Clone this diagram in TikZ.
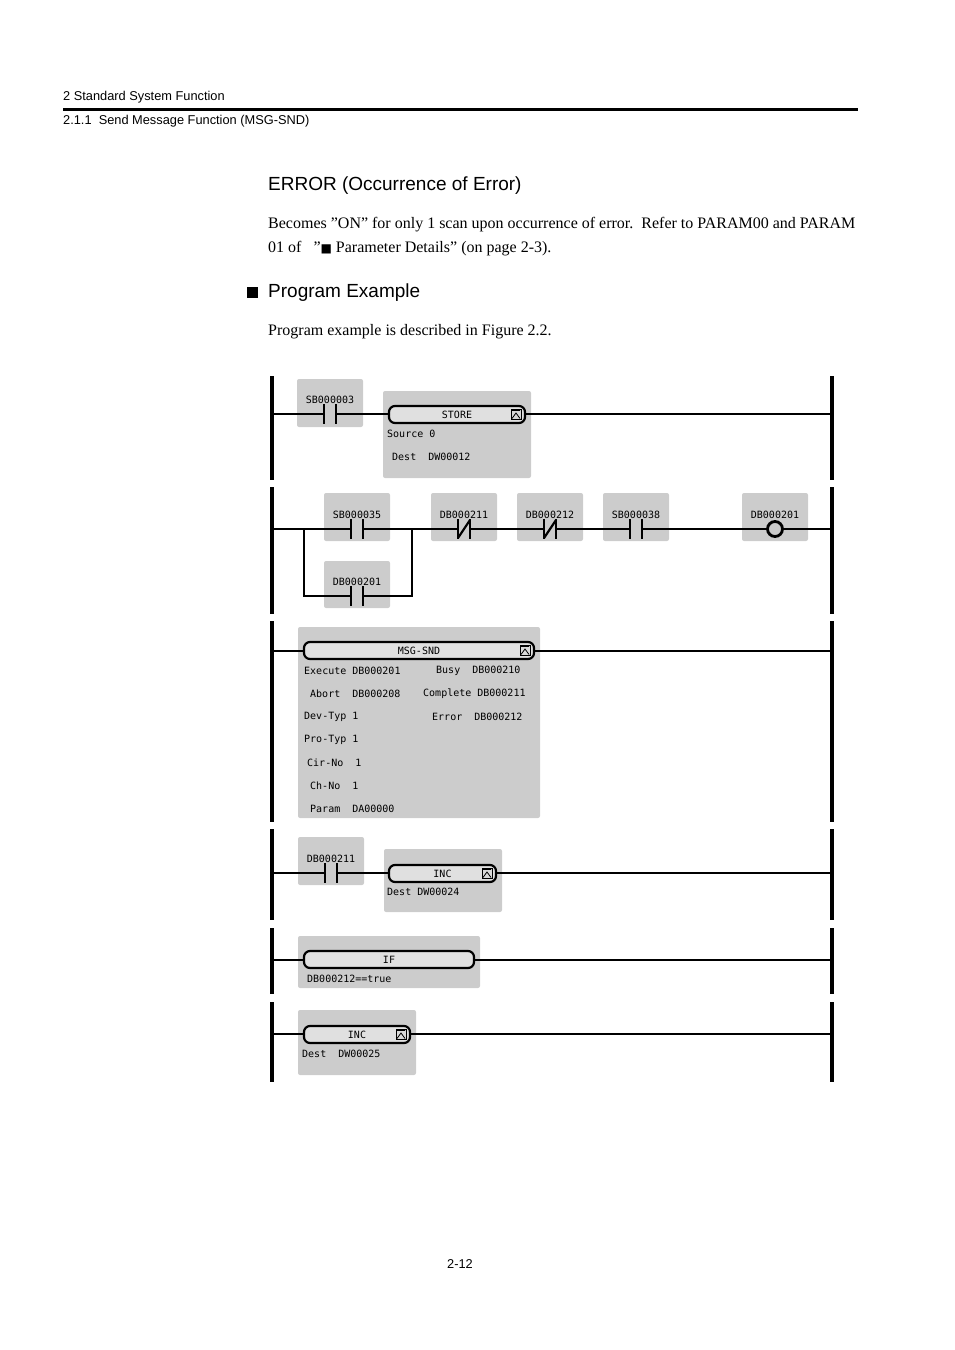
\documentclass[tikz,border=0pt]{standalone}
\usepackage{fontspec}
\setmainfont{Liberation Serif}
\newfontfamily\hsans{Liberation Sans}
\newfontfamily\lmono{DejaVu Sans Mono}
\begin{document}
\begin{tikzpicture}[x=1pt,y=-1pt,
  blk/.style={fill=black!20,rounded corners=2pt},
  lbl/.style={font=\lmono\fontsize{10}{11}\selectfont,inner sep=0pt,anchor=west},
  rail/.style={line width=3.5pt},
  wire/.style={line width=1.8pt},
  bar/.style={draw,line width=2.2pt,fill=black!12,rounded corners=6pt}]
\useasboundingbox (0,0) rectangle (954,1350);
% header
\node[font=\hsans\fontsize{12.8}{14}\selectfont,anchor=west,inner sep=0] (h1) at (63,97) {2 Standard System Function};
\draw[line width=3.5pt] (63,109.5) -- (858,109.5);
\node[font=\hsans\fontsize{12.8}{14}\selectfont,anchor=west,inner sep=0] (h2) at (63,121) {2.1.1\ \ Send Message Function (MSG-SND)};
\node[font=\hsans\fontsize{19}{21}\selectfont,anchor=west,inner sep=0] (t1) at (268,186) {ERROR (Occurrence of Error)};
\node[font=\fontsize{16}{18}\selectfont,anchor=west,inner sep=0] (p1) at (268,225) {Becomes \symbol{34}ON\symbol{34} for only 1 scan upon occurrence of error.\ \ Refer to PARAM00 and PARAM};
\node[font=\fontsize{16}{18}\selectfont,anchor=west,inner sep=0] (p2) at (268,249) {01 of\ \ \ \symbol{34}{\fontspec{DejaVu Sans}\fontsize{12}{14}\selectfont ■} Parameter Details\symbol{34} (on page 2-3).};
\fill (247,287) rectangle (258,298);
\node[font=\hsans\fontsize{19}{21}\selectfont,anchor=west,inner sep=0] (t2) at (268,293) {Program Example};
\node[font=\fontsize{16}{18}\selectfont,anchor=west,inner sep=0] (p3) at (268,332) {Program example is described in Figure 2.2.};
\node[font=\hsans\fontsize{12.8}{14}\selectfont,inner sep=0] (pg) at (460,1264) {2-12};
% gray boxes
\fill[blk] (297,379) rectangle (363,427);
\fill[blk] (383,391) rectangle (531,478);
\foreach \x in {324,431,517,603,742} \fill[blk] (\x,493) rectangle ++(66,48);
\fill[blk] (324,561) rectangle (390,608);
\fill[blk] (298,627) rectangle (540,818);
\fill[blk] (298,837) rectangle (364,885);
\fill[blk] (384,849) rectangle (502,912);
\fill[blk] (298,936) rectangle (480,988);
\fill[blk] (298,1010) rectangle (416,1075);
% rails
\foreach \a/\b in {376/480,487/614,621/822,829/920,928/994,1002/1082}{
  \draw[rail] (272,\a) -- (272,\b); \draw[rail] (832,\a) -- (832,\b);}
% wires
\foreach \y in {414,529,651,873,960,1034} \draw[wire] (272,\y) -- (832,\y);
% branch
\draw[wire] (304,529) -- (304,596) -- (412,596) -- (412,529);
% contacts
\newcommand{\nocont}[2]{\fill[black!20] (#1-5,#2-3) rectangle (#1+5,#2+3);
  \draw[line width=2.2pt] (#1-6,#2-10) -- (#1-6,#2+10) (#1+6,#2-10) -- (#1+6,#2+10);}
\newcommand{\nccont}[2]{\nocont{#1}{#2}\draw[line width=2.2pt] (#1-6,#2+9) -- (#1+6,#2-9);}
\nocont{330}{414}
\nocont{357}{529}\nccont{464}{529}\nccont{550}{529}\nocont{636}{529}
\nocont{357}{596}\nocont{331}{873}
\draw[line width=2.8pt,fill=black!20] (775,529) circle (7.5);
% labels
\node[lbl,anchor=center] (c1) at (330,400) {SB000003};
\node[lbl,anchor=center] (c2) at (357,515) {SB000035};
\node[lbl,anchor=center] (c3) at (464,515) {DB000211};
\node[lbl,anchor=center] (c4) at (550,515) {DB000212};
\node[lbl,anchor=center] (c5) at (636,515) {SB000038};
\node[lbl,anchor=center] (c6) at (775,515) {DB000201};
\node[lbl,anchor=center] (c7) at (357,582) {DB000201};
\node[lbl,anchor=center] (c8) at (331,859) {DB000211};
% function bars
\newcommand{\fbar}[5]{\draw[bar] (#1,#2) rectangle (#3,#2+17);
  \node[lbl,anchor=center] at ({(#1+#3)/2},#2+8.5) {#4};
  \ifnum#5=1 \draw[fill=black!15,line width=0.8pt] (#3-14,#2+3.5) rectangle (#3-4,#2+13.5);
  \draw[line width=0.8pt] (#3-13,#2+4.5) -- (#3-5,#2+4.5) (#3-13,#2+12.5) -- (#3-9,#2+7) -- (#3-5,#2+12.5);\fi}
\fbar{389}{406}{525}{STORE}{1}
\node[lbl] (s1) at (387,434) {Source 0};
\node[lbl] (s2) at (392,457) {Dest\ \ DW00012};
\fbar{304}{642}{534}{MSG-SND}{1}
\node[lbl] at (304,671) {Execute DB000201};
\node[lbl] at (310,694) {Abort\ \ DB000208};
\node[lbl] at (304,717) {Dev-Typ 1};
\node[lbl] at (304,740) {Pro-Typ 1};
\node[lbl] at (307,763) {Cir-No\ \ 1};
\node[lbl] at (310,786) {Ch-No\ \ 1};
\node[lbl] at (310,809) {Param\ \ DA00000};
\node[lbl] at (436,671) {Busy\ \ DB000210};
\node[lbl] at (423,694) {Complete DB000211};
\node[lbl] at (432,717) {Error\ \ DB000212};
\fbar{389}{865}{496}{INC}{1}
\node[lbl] at (387,892) {Dest DW00024};
\fbar{304}{951}{474}{IF}{0}
\node[lbl] at (307,979) {DB000212==true};
\fbar{304}{1026}{410}{INC}{1}
\node[lbl] at (302,1054) {Dest\ \ DW00025};
\end{tikzpicture}
\end{document}
